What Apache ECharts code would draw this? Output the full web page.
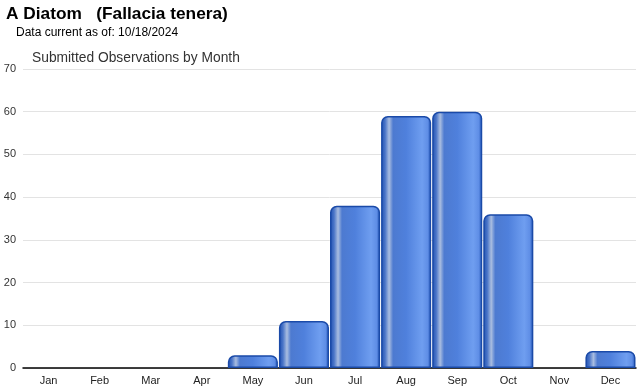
<!DOCTYPE html>
<html><head><meta charset="utf-8">
<script src="https://cdn.jsdelivr.net/npm/echarts@6/dist/echarts.min.js"></script>
<style>html,body{margin:0;padding:0;background:#fff}#c{width:640px;height:390px}</style>
</head><body><div id="c"></div>
<script>
const months = ['Jan','Feb','Mar','Apr','May','Jun','Jul','Aug','Sep','Oct','Nov','Dec'];
const observations = [0,0,0,0,3,11,38,59,60,36,0,4];
const yTicks = [0,10,20,30,40,50,60,70];

const chart = echarts.init(document.getElementById('c'), null, {renderer:'canvas'});
const grad = new echarts.graphic.LinearGradient(0,0,1,0,[
  {offset:0,color:'#1e4fb0'},
  {offset:0.08,color:'#4a75c8'},
  {offset:0.16,color:'#a9bde0'},
  {offset:0.24,color:'#4d7ad0'},
  {offset:0.5,color:'#4f80dc'},
  {offset:0.82,color:'#6f9ef0'},
  {offset:0.93,color:'#5f8ee6'},
  {offset:1,color:'#2456b8'}
]);
chart.setOption({
  animation:false,
  title:[
    {text:'A Diatom   (Fallacia tenera)',left:6,top:6,padding:0,textStyle:{fontFamily:'Liberation Sans, Arial',fontSize:17.3,fontWeight:'bold',color:'#000'}},
    {text:'Data current as of: 10/18/2024',left:16,top:27,padding:0,textStyle:{fontFamily:'Liberation Sans, Arial',fontSize:12,fontWeight:'normal',color:'#000'}},
    {text:'Submitted Observations by Month',left:32,top:51,padding:0,textStyle:{fontFamily:'Liberation Sans, Arial',fontSize:13.8,fontWeight:'normal',color:'#333'}}
  ],
  grid:{left:23,right:4,top:69,bottom:22,containLabel:false},
  xAxis:{type:'category',data:months,
    axisLine:{lineStyle:{color:'#000',width:1.5}},
    axisTick:{alignWithLabel:true,length:4,lineStyle:{color:'#bbb'}},
    axisLabel:{fontFamily:'Liberation Sans, Arial',fontSize:11,color:'#222',margin:7}},
  yAxis:{type:'value',min:yTicks[0],max:yTicks[yTicks.length-1],interval:10,
    axisLine:{show:false},axisTick:{show:false},
    splitLine:{lineStyle:{color:'#e3e3e3'}},
    axisLabel:{fontFamily:'Liberation Sans, Arial',fontSize:11,color:'#333',margin:7}},
  series:[{type:'bar',data:observations.map(v => v === 0 ? '-' : v),barCategoryGap:'2%',
    itemStyle:{color:grad,borderColor:'#1a4aa8',borderWidth:1.5,borderRadius:[6,6,0,0]}}]
});
</script></body></html>
